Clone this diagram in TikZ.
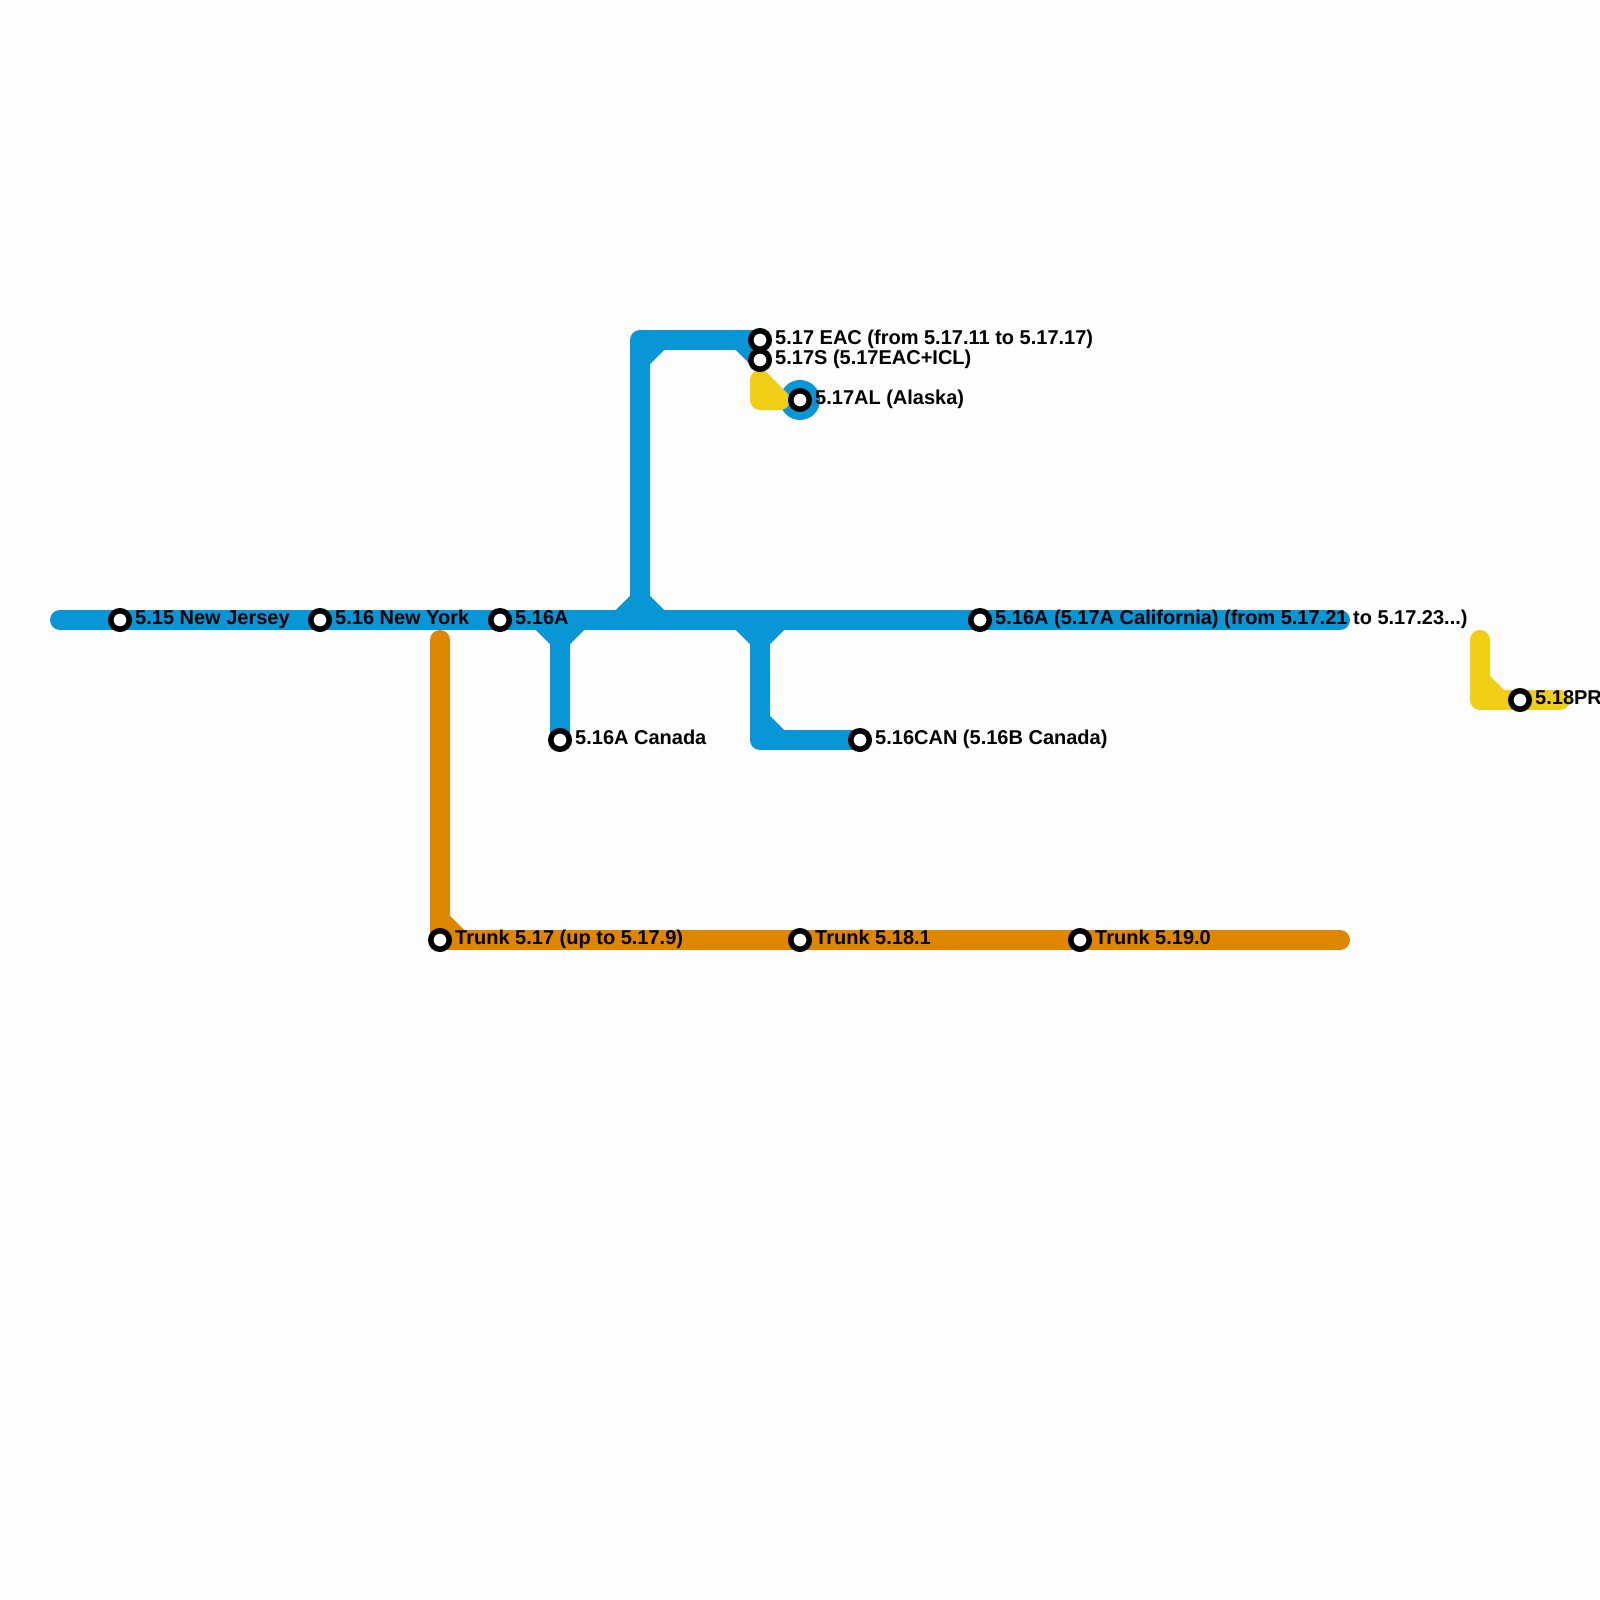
\documentclass[tikz,border=0pt]{standalone}
\usepackage{fontspec}
\usetikzlibrary{backgrounds}
\setmainfont{Liberation Sans}
\definecolor{lblue}{HTML}{0896D7}
\definecolor{lorange}{HTML}{DF8600}
\definecolor{lyellow}{HTML}{F0CE15}
\definecolor{bgc}{HTML}{FDFDFD}
\tikzset{
  route/.style={line width=20pt,line cap=round,line join=round},
  blueline/.style={route,draw=lblue},
  orangeline/.style={route,draw=lorange},
  yellowline/.style={route,draw=lyellow},
  stop/.style={circle,draw=black,fill=white,line width=5.5pt,minimum size=18.5pt,inner sep=0pt,outer sep=0pt},
  stoplabel/.style={anchor=base west,inner sep=0pt,font=\bfseries\fontsize{20}{22}\selectfont,text=black}
}
\begin{document}
\begin{tikzpicture}[x=1pt,y=-1pt]
\useasboundingbox (0,0) rectangle (1600,1600);
% coordinates
\coordinate (bw) at (60,620);
\coordinate (be) at (1340,620);
\coordinate (j1) at (640,620);
\coordinate (tc) at (640,340);
\coordinate (lc) at (760,740);
\coordinate (oe) at (1340,940);
\coordinate (ot) at (440,640);
% stations
\node[stop] (nj) at (120,620) {};
\node[stop] (ny) at (320,620) {};
\node[stop] (a16) at (500,620) {};
\node[stop] (cal) at (980,620) {};
\node[stop] (can) at (560,740) {};
\node[stop] (canb) at (860,740) {};
\node[stop] (eac) at (760,340) {};
\node[stop] (s17) at (760,360) {};
\node[stop] (al) at (800,400) {};
\node[stop] (t17) at (440,940) {};
\node[stop] (t18) at (800,940) {};
\node[stop] (t19) at (1080,940) {};
\node[stop] (pr) at (1520,700) {};
% lines
\begin{scope}[on background layer]
\fill[bgc] (0,0) rectangle (1600,1600);
\draw[blueline] (bw) -- (be);
\draw[blueline] (j1) -- (tc) -- (eac.center);
\draw[blueline] (640,360) -- (660,340);
\draw[blueline] (s17.center) -- (740,340);
\draw[blueline,fill=lblue] (620,620) -- (640,600) -- (660,620);
\draw[blueline,fill=lblue] (540,620) -- (560,640) -- (580,620);
\draw[blueline,fill=lblue] (740,620) -- (760,640) -- (780,620);
\draw[blueline] (560,620) -- (can.center);
\draw[blueline] (760,620) -- (lc) -- (canb.center);
\draw[blueline] (760,720) -- (780,740);
\fill[lblue] (al.center) circle (20pt);
\draw[orangeline] (ot) -- (t17.center) -- (oe);
\draw[orangeline] (440,920) -- (460,940);
\draw[yellowline,fill=lyellow] (760,380) -- (760,400) -- (780,400) -- cycle;
\draw[yellowline] (1480,640) -- (1480,700) -- (1560,700);
\draw[yellowline] (1480,680) -- (1500,700);
\end{scope}
% labels
\node[stoplabel] (lnj) at (135,624.5) {5.15 New Jersey};
\node[stoplabel] (lny) at (335,624.5) {5.16 New York};
\node[stoplabel] (la16) at (515,624.5) {5.16A};
\node[stoplabel] (lcal) at (995,624.5) {5.16A (5.17A California) (from 5.17.21 to 5.17.23...)};
\node[stoplabel] (lcan) at (575,744.5) {5.16A Canada};
\node[stoplabel] (lcanb) at (875,744.5) {5.16CAN (5.16B Canada)};
\node[stoplabel] (leac) at (775,344.5) {5.17 EAC (from 5.17.11 to 5.17.17)};
\node[stoplabel] (ls17) at (775,364.5) {5.17S (5.17EAC+ICL)};
\node[stoplabel] (lal) at (815,404.5) {5.17AL (Alaska)};
\node[stoplabel] (lt17) at (455,944.5) {Trunk 5.17 (up to 5.17.9)};
\node[stoplabel] (lt18) at (815,944.5) {Trunk 5.18.1};
\node[stoplabel] (lt19) at (1095,944.5) {Trunk 5.19.0};
\node[stoplabel] (lpr) at (1535,704.5) {5.18PR};
\end{tikzpicture}
\end{document}
